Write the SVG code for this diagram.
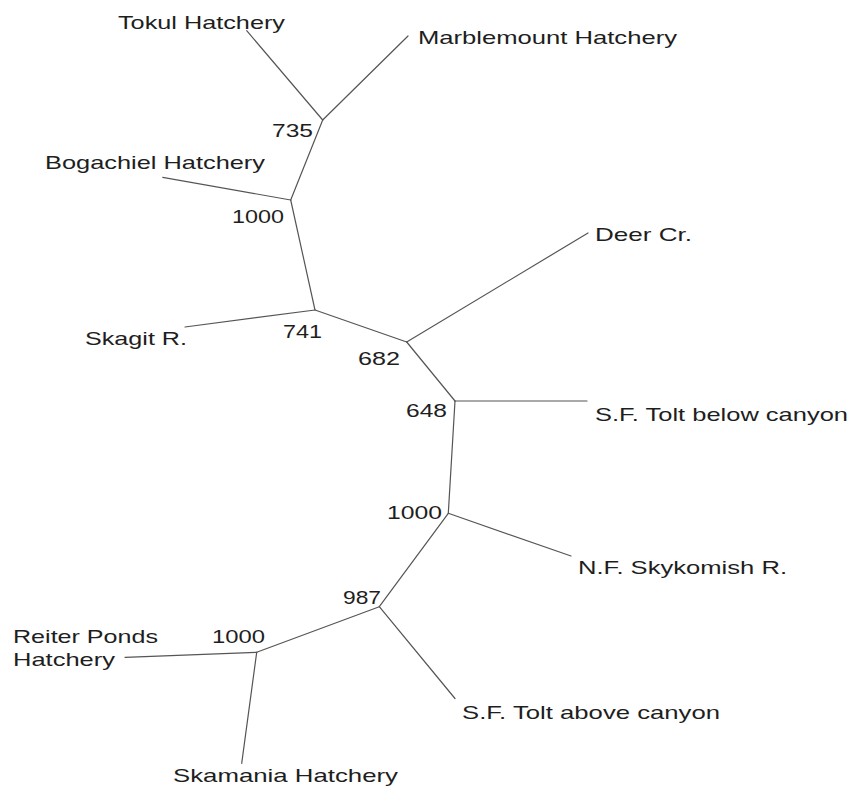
<svg xmlns="http://www.w3.org/2000/svg" width="851" height="788" viewBox="0 0 851 788">
<style>
text{font-family:"Liberation Sans",Arial,sans-serif;font-size:19px;fill:#1e1e1e}
.e{stroke:#555;stroke-width:1.2;fill:none;stroke-linecap:round}
</style>
<rect width="851" height="788" fill="#fff"/>
<g id="connectors">
<line class="e" x1="246.7" y1="30.7" x2="322.7" y2="120"/>
<line class="e" x1="408" y1="36" x2="322.7" y2="120"/>
<line class="e" x1="322.7" y1="120" x2="290.7" y2="200"/>
<line class="e" x1="162.7" y1="177.3" x2="290.7" y2="200"/>
<line class="e" x1="290.7" y1="200" x2="315" y2="310"/>
<line class="e" x1="185" y1="327" x2="315" y2="310"/>
<line class="e" x1="315" y1="310" x2="406.7" y2="342"/>
<line class="e" x1="406.7" y1="342" x2="588" y2="233"/>
<line class="e" x1="406.7" y1="342" x2="455" y2="401"/>
<line class="e" x1="455" y1="401" x2="587" y2="401"/>
<line class="e" x1="455" y1="401" x2="448.3" y2="513.3"/>
<line class="e" x1="448.3" y1="513.3" x2="571" y2="556"/>
<line class="e" x1="448.3" y1="513.3" x2="379.3" y2="606.7"/>
<line class="e" x1="379.3" y1="606.7" x2="455" y2="698.5"/>
<line class="e" x1="379.3" y1="606.7" x2="256.7" y2="652.3"/>
<line class="e" x1="125" y1="657.3" x2="256.7" y2="652.3"/>
<line class="e" x1="256.7" y1="652.3" x2="241.7" y2="763.3"/>
</g>
<g id="tokul"><text x="118" y="28.5" textLength="167" lengthAdjust="spacingAndGlyphs">Tokul Hatchery</text></g>
<g id="marblemount"><text x="418" y="44" textLength="259" lengthAdjust="spacingAndGlyphs">Marblemount Hatchery</text></g>
<g id="n735"><text x="272" y="137" textLength="41" lengthAdjust="spacingAndGlyphs">735</text></g>
<g id="bogachiel"><text x="45" y="169" textLength="220" lengthAdjust="spacingAndGlyphs">Bogachiel Hatchery</text></g>
<g id="n1000a"><text x="232" y="223" textLength="52" lengthAdjust="spacingAndGlyphs">1000</text></g>
<g id="skagit"><text x="85" y="345" textLength="102" lengthAdjust="spacingAndGlyphs">Skagit R.</text></g>
<g id="n741"><text x="283" y="338" textLength="39" lengthAdjust="spacingAndGlyphs">741</text></g>
<g id="n682"><text x="358" y="365" textLength="42" lengthAdjust="spacingAndGlyphs">682</text></g>
<g id="deer"><text x="595" y="241" textLength="97" lengthAdjust="spacingAndGlyphs">Deer Cr.</text></g>
<g id="n648"><text x="406" y="416.5" textLength="41" lengthAdjust="spacingAndGlyphs">648</text></g>
<g id="sftolt-below"><text x="595" y="420.5" textLength="253" lengthAdjust="spacingAndGlyphs">S.F. Tolt below canyon</text></g>
<g id="n1000b"><text x="387" y="518.5" textLength="55" lengthAdjust="spacingAndGlyphs">1000</text></g>
<g id="nfskykomish"><text x="578" y="573.5" textLength="209" lengthAdjust="spacingAndGlyphs">N.F. Skykomish R.</text></g>
<g id="n987"><text x="343" y="604" textLength="38" lengthAdjust="spacingAndGlyphs">987</text></g>
<g id="reiter"><text x="13" y="642.5" textLength="145" lengthAdjust="spacingAndGlyphs">Reiter Ponds</text><text x="13" y="666" textLength="102" lengthAdjust="spacingAndGlyphs">Hatchery</text></g>
<g id="n1000c"><text x="212" y="643" textLength="53" lengthAdjust="spacingAndGlyphs">1000</text></g>
<g id="sftolt-above"><text x="462" y="718.5" textLength="258" lengthAdjust="spacingAndGlyphs">S.F. Tolt above canyon</text></g>
<g id="skamania"><text x="173" y="782" textLength="225" lengthAdjust="spacingAndGlyphs">Skamania Hatchery</text></g>
</svg>
